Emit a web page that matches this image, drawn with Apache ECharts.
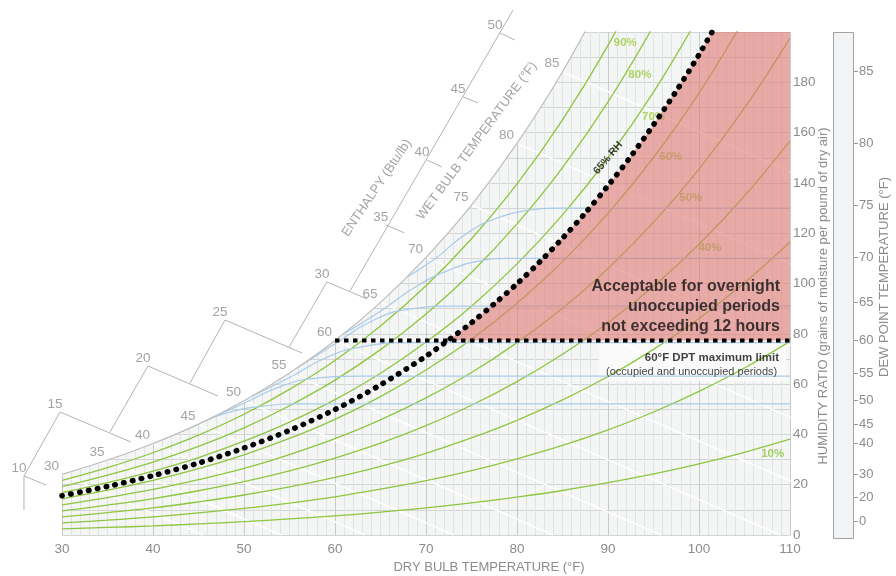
<!DOCTYPE html>
<html>
<head>
<meta charset="utf-8">
<title>Psychrometric chart</title>
<script src="https://cdn.jsdelivr.net/npm/echarts@6.0.0/dist/echarts.min.js"></script>
<style>
  html, body { margin: 0; padding: 0; background: #fff; }
  #chart { width: 896px; height: 576px; }
</style>
</head>
<body>
<div id="chart"></div>
<script>
// ---- data (dry bulb °F, humidity ratio in grains/lb) ----
const dryBulb = [30, 35, 40, 45, 50, 55, 60, 65, 70, 75, 80, 85, 90, 95, 100, 105, 110];
const rh10 = [2.4, 3.0, 3.6, 4.4, 5.3, 6.4, 7.6, 9.1, 10.8, 12.8, 15.1, 17.7, 20.8, 24.3, 28.3, 32.9, 38.1];
const rh20 = [4.8, 5.9, 7.2, 8.8, 10.6, 12.7, 15.2, 18.2, 21.6, 25.6, 30.3, 35.6, 41.8, 48.9, 57.1, 66.4, 77.0];
const rh30 = [7.2, 8.9, 10.8, 13.2, 15.9, 19.1, 22.9, 27.3, 32.5, 38.6, 45.6, 53.7, 63.0, 73.8, 86.1, 100.3, 116.5];
const rh40 = [9.6, 11.9, 14.5, 17.6, 21.2, 25.5, 30.6, 36.5, 43.5, 51.6, 61.0, 71.9, 84.4, 98.9, 115.6, 134.8, 156.7];
const rh50 = [12.0, 14.9, 18.1, 22.0, 26.5, 32.0, 38.3, 45.8, 54.5, 64.6, 76.5, 90.2, 106.0, 124.4, 145.5, 169.8, 197.6];
const rh60 = [14.4, 17.8, 21.7, 26.4, 31.9, 38.4, 46.0, 55.0, 65.6, 77.8, 92.1, 108.7, 127.9, 150.1, 175.7, 205.3];
const rh70 = [16.8, 20.8, 25.4, 30.8, 37.3, 44.9, 53.8, 64.3, 76.7, 91.0, 107.8, 127.3, 149.9, 176.1, 206.4];
const rh80 = [19.2, 23.8, 29.0, 35.2, 42.6, 51.4, 61.6, 73.7, 87.9, 104.4, 123.7, 146.1, 172.2, 202.4];
const rh90 = [21.7, 26.8, 32.7, 39.7, 48.0, 57.9, 69.4, 83.1, 99.1, 117.8, 139.6, 165.1, 194.7, 229.1];
const saturation = [24.1, 29.8, 36.4, 44.1, 53.4, 64.4, 77.3, 92.5, 110.4, 131.2, 155.7, 184.2, 217.4];

// 65% RH limit curve
const rh65Temps = [30, 35, 40, 45, 50, 55, 60, 65, 70, 72.4, 75, 77.5, 80, 82.5, 85, 87.5, 90, 92.5, 95, 97.5, 100, 102.5];
const rh65 = [15.6, 19.3, 23.6, 28.6, 34.6, 41.6, 49.9, 59.7, 71.1, 77.3, 84.4, 91.9, 99.9, 108.6, 118.0, 128.0, 138.9, 150.5, 163.1, 176.5, 191.0, 206.8];

// 60°F dew point maximum limit
const dptLimitW = 77.3;
const dptLimitFrom = 60;

// wet bulb lines: start on saturation, end at W = 0
const wetBulb = [30, 35, 40, 45, 50, 55, 60, 65, 70, 75, 80, 85];
const wetBulbSatW = [24.1, 29.8, 36.4, 44.1, 53.4, 64.4, 77.3, 92.5, 110.4, 131.2, 155.7, 184.2];
const wetBulbEndT = [45.5, 54.1, 63.3, 73.1, 84.0, 95.8, 108.9, 123.7, 139.5, 157.4, 177.7, 200.8];

// light blue dew point curves
const dp50 = [[40, 36.4], [44, 42.6], [48, 48.4], [52, 51.2], [56, 52.1], [110, 52.1]];
const dp55 = [[46, 45.8], [50, 52.4], [54, 59.0], [58, 62.4], [63, 63.2], [110, 63.2]];
const dp60 = [[51, 55.4], [55, 62.6], [59, 70.5], [63, 74.9], [68, 76.5], [110, 76.5]];
const dp65 = [[56, 66.8], [60, 76.0], [64, 85.0], [68, 89.7], [73, 91.0], [110, 91.0]];
const dp70 = [[61, 80.1], [65, 89.0], [69, 99.0], [73, 106.0], [76, 109.0], [79, 110.0], [110, 110.0]];
const dp75 = [[67, 100.6], [70.8, 109.3], [74.5, 120.0], [78.1, 126.4], [81.4, 129.2], [84, 130.0], [110, 130.0]];

// dew point scale on the right
const dewPointTicks = [0, 20, 30, 40, 45, 50, 55, 60, 65, 70, 75, 80, 85];
const dewPointW = [5.5, 15.0, 24.1, 36.4, 44.1, 53.4, 64.4, 77.3, 92.5, 110.4, 131.2, 155.7, 184.2];

// enthalpy scale labels (Btu/lb)
const enthalpyTicks = [10, 15, 20, 25, 30, 35, 40, 45, 50];

// ---- layout (data units of the chart axes) ----
const enthalpyCorners = [[25.82, 23.46], [29.78, 48.91], [39.45, 67.2], [47.91, 85.49], [59.12, 100.6],
  [65.57, 123.3], [70.11, 149.1], [74.07, 174.2], [78.13, 199.6]];
const enthalpyScaleLines = [
  [[25.82, 9.94], [25.82, 23.46], [28.24, 19.88]],
  [[25.82, 23.46], [29.78, 48.91], [37.58, 36.98]],
  [[35.27, 40.95], [39.45, 67.2], [47.14, 55.27]],
  [[44.07, 60.44], [47.91, 85.49], [56.37, 72.37]],
  [[54.95, 74.75], [59.12, 100.6], [63.52, 93.84]],
  [[61.65, 97.02], [79.56, 208.7]],
  [[65.57, 123.3], [67.58, 120.2]],
  [[70.11, 149.1], [71.76, 146.3]],
  [[74.07, 174.2], [75.71, 171.8]],
  [[78.13, 199.6], [79.78, 196.8]]
];
const rhLabels = [
  {text: '90%', at: [91.9, 195.6], color: '#9ccc3c'},
  {text: '80%', at: [93.5, 182.9], color: '#9ccc3c'},
  {text: '70%', at: [95.0, 166.2], color: '#9ccc3c'},
  {text: '60%', at: [96.9, 150.3], color: '#8dc63f'},
  {text: '50%', at: [99.1, 134.0], color: '#8dc63f'},
  {text: '40%', at: [101.2, 114.1], color: '#8dc63f'},
  {text: '10%', at: [108.1, 32.2], color: '#8dc63f'}
];

const GRAY = '#8c8c8c';
const FONT = "'Liberation Sans', Arial, sans-serif";
const GREEN = '#8dc63f';

function line(data, color, width, z, extra) {
  return Object.assign({
    type: 'line', data: data, symbol: 'none', silent: true, z: z,
    lineStyle: {color: color, width: width}
  }, extra || {});
}

function textMarks(points, label, z) {
  return {
    type: 'scatter', z: z, clip: false, silent: true, symbolSize: 1,
    itemStyle: {color: 'rgba(0,0,0,0)'},
    data: points.map(p => ({value: p.at, label: Object.assign({formatter: p.text}, p.label || {})})),
    label: Object.assign({show: true, position: 'inside', fontFamily: FONT}, label)
  };
}

const series = [];

// wet bulb lines (faint, under everything)
wetBulb.forEach((t, i) => {
  series.push(line([[t, wetBulbSatW[i]], [wetBulbEndT[i], 0]], 'rgba(255,255,255,0.95)', 1.5, 1));
});

// relative humidity curves
[rh10, rh20, rh30, rh40, rh50, rh60, rh70, rh80, rh90].forEach(vals => {
  series.push(line(vals.map((w, i) => [dryBulb[i], w]), GREEN, 1.3, 2, {smooth: 0.4}));
});

// dew point curves
[dp50, dp55, dp60, dp65, dp70, dp75].forEach(pts => {
  series.push(line(pts, '#a9cbe9', 1.2, 2, {smooth: 0.5}));
});

// RH labels (below the pink overlay)
series.push(textMarks(rhLabels.map(l => ({text: l.text, at: l.at, label: {color: l.color}})),
  {fontSize: 11.5, fontWeight: 'bold'}, 3));

// white above saturation + saturation curve
series.push(line(saturation.map((w, i) => [dryBulb[i], w]), '#bdbdbd', 1.2, 4,
  {smooth: 0.4, areaStyle: {color: '#ffffff', opacity: 1, origin: 'end'}}));

// pink zone: above 60°F DPT and right of 65% RH
const topW = 200;
const pinkZone = [];
for (let i = 0; i < rh65.length; i++) {
  const t = rh65Temps[i], w = rh65[i];
  if (w < dptLimitW - 0.01) continue;
  if (w > topW) {
    const t0 = rh65Temps[i - 1], w0 = rh65[i - 1];
    pinkZone.push([t0 + (topW - w0) / (w - w0) * (t - t0), topW]);
    break;
  }
  pinkZone.push([t, w]);
}
pinkZone.push([110, topW], [110, dptLimitW]);

series.push({
  type: 'custom', z: 5, silent: true, clip: true,
  data: [[110, dptLimitW]],
  renderItem: (params, api) => ({
    type: 'polygon',
    shape: {points: pinkZone.map(p => api.coord(p))},
    style: {fill: 'rgba(224,120,115,0.6)'}
  })
});

// light box behind the DPT limit note
series.push({
  type: 'line', data: [], z: 5, silent: true,
  markArea: {
    silent: true,
    itemStyle: {color: 'rgba(250,250,250,0.95)'},
    data: [[{coord: [89, 61]}, {coord: [109.6, 76.6]}]]
  }
});

// 60°F DPT horizontal dotted limit
series.push(line([[dptLimitFrom, dptLimitW], [110, dptLimitW]], '#000', 4, 6,
  {lineStyle: {color: '#000', width: 4, type: [4.5, 4.5]}}));

// 65% RH dotted curve
series.push(line(rh65.map((w, i) => [rh65Temps[i], w]), '#000', 5.5, 6,
  {smooth: 0.3, lineStyle: {color: '#000', width: 5.5, type: [0.5, 8.5], cap: 'round'}}));

// enthalpy scale (drawn outside the plot area)
series.push({
  type: 'custom', z: 7, silent: true, clip: false,
  data: [[30, 0]],
  renderItem: (params, api) => ({
    type: 'group',
    children: enthalpyScaleLines.map(seg => ({
      type: 'polyline',
      shape: {points: seg.map(p => api.coord(p))},
      style: {stroke: '#b3b3b3', lineWidth: 1, fill: null}
    }))
  })
});
series.push(textMarks(enthalpyTicks.map((h, i) => ({text: String(h), at: enthalpyCorners[i]})),
  {color: GRAY, fontSize: 13.5, offset: [-5, -8]}, 7));

// wet bulb labels along saturation
series.push(textMarks(wetBulb.map((t, i) => ({text: String(t), at: [t, wetBulbSatW[i]]})),
  {color: GRAY, fontSize: 13.5, align: 'right', offset: [-3, -8]}, 7));

// rotated scale titles and notes
series.push(textMarks([
  {text: 'WET BULB TEMPERATURE (°F)', at: [75.6, 156.7], label: {rotate: 53.5}},
  {text: 'ENTHALPY (Btu/lb)', at: [64.6, 138], label: {rotate: 56}}
], {color: GRAY, fontSize: 13}, 7));

series.push(textMarks([{text: '65% RH', at: [90.0, 149.9]}],
  {color: '#111', fontSize: 10.5, fontWeight: 'bold', rotate: 50}, 7));

series.push(textMarks([
  {text: 'Acceptable for overnight\nunoccupied periods\nnot exceeding 12 hours', at: [108.9, 90.7]}
], {color: '#111', fontSize: 16, fontWeight: 'bold', lineHeight: 20, align: 'right'}, 7));

series.push(textMarks([
  {text: '60°F DPT maximum limit', at: [108.8, 70.4], label: {fontWeight: 'bold', fontSize: 11.5}},
  {text: '(occupied and unoccupied periods)', at: [108.6, 64.8]}
], {color: '#111', fontSize: 11, align: 'right'}, 7));

function nearestDewPoint(v) {
  let best = 0;
  dewPointW.forEach((w, i) => { if (Math.abs(w - v) < Math.abs(dewPointW[best] - v)) best = i; });
  return dewPointTicks[best];
}

const chart = echarts.init(document.getElementById('chart'));
chart.setOption({
  backgroundColor: '#fff',
  animation: false,
  grid: {left: 62, right: 106, top: 32, bottom: 41, show: true, backgroundColor: '#f4f5f5', borderWidth: 0},
  xAxis: {
    type: 'value', min: 30, max: 110, interval: 10,
    axisLine: {show: false}, axisTick: {show: false},
    axisLabel: {color: GRAY, fontSize: 13.5, fontFamily: FONT, margin: 7},
    splitLine: {show: true, lineStyle: {color: '#c9caca', width: 1}},
    minorTick: {show: false, splitNumber: 10},
    minorSplitLine: {show: true, lineStyle: {color: '#e2e3e3', width: 1}}
  },
  yAxis: [
    {
      type: 'value', position: 'right', min: 0, max: 200, interval: 10,
      axisLine: {show: false}, axisTick: {show: false},
      axisLabel: {
        color: GRAY, fontSize: 13.5, fontFamily: FONT, margin: 3,
        formatter: v => (v % 20 === 0 && v < 200) ? String(v) : ''
      },
      splitLine: {show: true, lineStyle: {color: '#d3d4d4', width: 1}}
    },
    {
      type: 'value', position: 'right', offset: 64, min: 0, max: 200,
      axisLine: {show: false}, splitLine: {show: false},
      axisTick: {show: true, customValues: dewPointW, length: 4, lineStyle: {color: '#9a9a9a'}},
      axisLabel: {
        customValues: dewPointW, color: GRAY, fontSize: 13, fontFamily: FONT, margin: 5,
        formatter: v => String(nearestDewPoint(v))
      }
    }
  ],
  graphic: [
    {type: 'rect', z: -1, shape: {x: 833.5, y: 32.5, width: 20, height: 506},
      style: {fill: '#f2f3f5', stroke: '#a3a3a3', lineWidth: 1}},
    {type: 'text', x: 489, y: 567,
      style: {text: 'DRY BULB TEMPERATURE (°F)', fill: GRAY, fontSize: 13, fontFamily: FONT, align: 'center', verticalAlign: 'middle'}},
    {type: 'text', x: 823, y: 296, rotation: Math.PI / 2,
      style: {text: 'HUMIDITY RATIO (grains of moisture per pound of dry air)', fill: GRAY, fontSize: 13, fontFamily: FONT, align: 'center', verticalAlign: 'middle'}},
    {type: 'text', x: 884, y: 277, rotation: Math.PI / 2,
      style: {text: 'DEW POINT TEMPERATURE (°F)', fill: GRAY, fontSize: 13, fontFamily: FONT, align: 'center', verticalAlign: 'middle'}}
  ],
  series: series
});
</script>
</body>
</html>
